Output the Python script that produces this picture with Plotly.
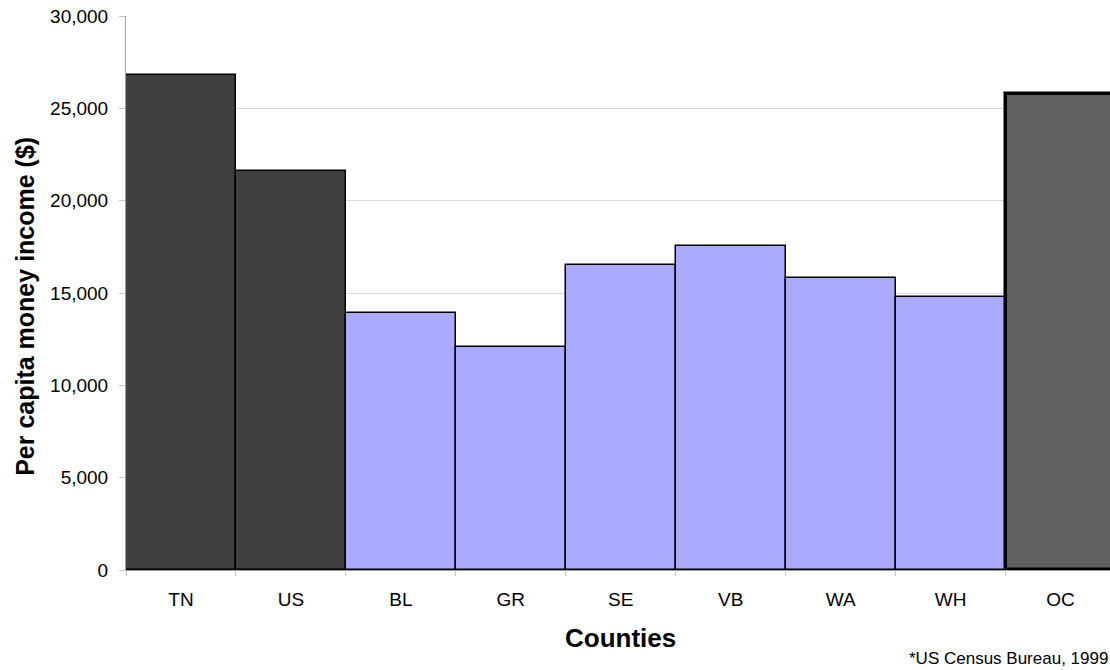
import plotly.graph_objects as go

# Per capita money income by county, 1999
counties = ["TN", "US", "BL", "GR", "SE", "VB", "WA", "WH", "OC"]
income = [26800, 21600, 13900, 12050, 16500, 17550, 15800, 14800, 25800]
bar_colors = ["#404040", "#404040", "#aaaaff", "#aaaaff", "#aaaaff",
              "#aaaaff", "#aaaaff", "#aaaaff", "#5f6060"]
outline_widths = [1.5, 1.5, 1.5, 1.5, 1.5, 1.5, 1.5, 1.5, 3.5]
y_ticks = [0, 5000, 10000, 15000, 20000, 25000, 30000]

FONT = "Liberation Sans, Arial, sans-serif"

fig = go.Figure(
    go.Bar(
        x=counties,
        y=income,
        marker=dict(color=bar_colors,
                    line=dict(color="#000000", width=outline_widths)),
        width=1.0,
        hoverinfo="x+y",
    )
)

fig.update_layout(
    width=1110,
    height=670,
    margin=dict(l=126, r=0, t=16, b=100),
    paper_bgcolor="white",
    plot_bgcolor="white",
    bargap=0,
    showlegend=False,
    font=dict(family=FONT, color="#000000"),
    annotations=[
        # y-axis title, placed by hand
        dict(text="<b>Per capita money income ($)</b>", x=0, y=0.475,
             xref="paper", yref="paper", xanchor="center", yanchor="middle",
             xshift=-101, textangle=-90, showarrow=False,
             font=dict(family=FONT, size=25, color="#000000")),
        # x-axis title
        dict(text="<b>Counties</b>", x=0.5, y=0, xref="paper", yref="paper",
             xanchor="center", yanchor="middle", yshift=-68, xshift=2,
             showarrow=False,
             font=dict(family=FONT, size=26, color="#000000")),
        # data source note
        dict(text="*US Census Bureau, 1999", x=1.0, y=0, xref="paper",
             yref="paper", xanchor="right", yanchor="middle", yshift=-88,
             showarrow=False, font=dict(family=FONT, size=17, color="#000000")),
    ],
)

fig.update_xaxes(
    type="category",
    range=[-0.5, 8.45],
    tickson="boundaries",
    ticks="outside",
    ticklen=5,
    tickcolor="#c8c8c8",
    showline=True,
    linecolor="#a0a0a0",
    linewidth=1,
    showgrid=False,
    ticklabelstandoff=12,
    tickfont=dict(family=FONT, size=19, color="#000000"),
)

fig.update_yaxes(
    range=[0, 30000],
    tickvals=y_ticks,
    tickformat=",d",
    ticks="outside",
    ticklen=6,
    tickcolor="#c8c8c8",
    showline=True,
    linecolor="#a0a0a0",
    linewidth=1,
    showgrid=True,
    gridcolor="#d9d9d9",
    gridwidth=1,
    zeroline=False,
    ticklabelstandoff=7,
    tickfont=dict(family=FONT, size=19, color="#000000"),
)

fig.write_html("out.html")
